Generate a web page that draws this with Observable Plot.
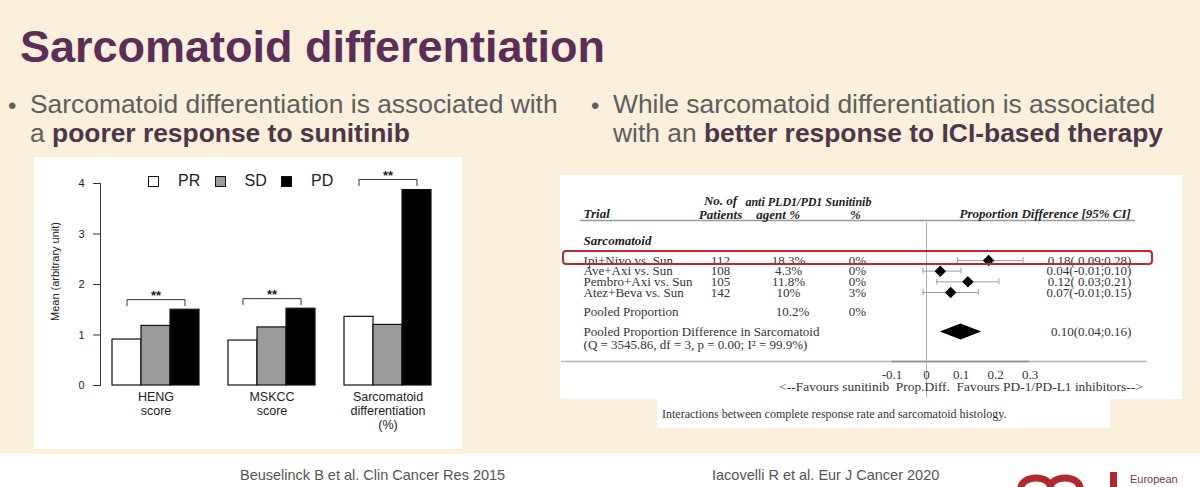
<!DOCTYPE html>
<html><head><meta charset="utf-8">
<script src="https://cdn.jsdelivr.net/npm/d3@7"></script>
<script src="https://cdn.jsdelivr.net/npm/@observablehq/plot@0.6"></script>
<style>
html,body{margin:0;padding:0;}
body{width:1200px;height:487px;background:#faf0dc;position:relative;overflow:hidden;font-family:"Liberation Sans",Arial,sans-serif;}
.abs{position:absolute;}
#title{left:20px;top:24px;font-size:45px;line-height:45px;font-weight:bold;color:#5c2d57;white-space:nowrap;}
.bullet{font-size:26.4px;line-height:29px;color:#5e5e5e;white-space:nowrap;}
.bullet b{color:#4f3549;}
.dot{font-size:24px;line-height:29px;color:#5e5e5e;}
.panel{background:#fff;}
#legend{left:148px;top:172px;display:flex;font-size:16px;color:#222;}
#legend .item{display:flex;align-items:center;width:66.5px;}
#legend .sw{width:9px;height:9px;border:1px solid #111;margin-right:19px;}
.cite{font-family:"Liberation Sans Narrow","Arial Narrow","Liberation Sans",sans-serif;font-size:14.5px;color:#555;white-space:nowrap;}
#caption{left:662px;top:407px;font-family:"Liberation Serif","Times New Roman",serif;font-size:12px;color:#333;white-space:nowrap;}
</style></head><body>
<div id="title" class="abs">Sarcomatoid differentiation</div>
<div class="abs dot" style="left:8px;top:91px;">•</div>
<div class="abs bullet" style="left:30px;top:90px;">Sarcomatoid differentiation is associated with<br>a <b>poorer response to sunitinib</b></div>
<div class="abs dot" style="left:591px;top:91px;">•</div>
<div class="abs bullet" style="left:613px;top:90px;">While sarcomatoid differentiation is associated<br>with an <b>better response to ICI-based therapy</b></div>

<div class="abs panel" style="left:34px;top:157px;width:428px;height:292px;"></div>
<div id="bars" class="abs" style="left:34px;top:157px;"></div>
<div id="legend" class="abs"></div>

<div class="abs panel" style="left:560px;top:175px;width:622px;height:224px;"></div>
<div class="abs panel" style="left:657px;top:398px;width:453px;height:30px;"></div>
<div id="forest" class="abs" style="left:555px;top:175px;"></div>
<div id="caption" class="abs">Interactions between complete response rate and sarcomatoid histology.</div>

<div class="abs" style="left:0;top:454px;width:1200px;height:33px;background:#fff;"></div>
<div class="abs cite" style="left:240px;top:467px;">Beuselinck B et al. Clin Cancer Res 2015</div>
<div class="abs cite" style="left:712px;top:467px;">Iacovelli R et al. Eur J Cancer 2020</div>
<svg class="abs" style="left:1015px;top:462px;" width="185" height="25">
  <ellipse cx="21" cy="26" rx="15" ry="10" fill="none" stroke="#b3282d" stroke-width="7"/>
  <ellipse cx="50" cy="26" rx="15" ry="10" fill="none" stroke="#b3282d" stroke-width="7"/>
  <rect x="95" y="10" width="7" height="20" fill="#b3282d"/>
  <text x="115" y="21" font-family="Liberation Sans, Arial, sans-serif" font-size="11" fill="#7a3a3a">European</text>
</svg>

<script>
// ---------- Left chart data (Beuselinck et al.) ----------
const groups = ["HENG score", "MSKCC score", "Sarcomatoid differentiation (%)"];
const groupLabels = ["HENG\nscore", "MSKCC\nscore", "Sarcomatoid\ndifferentiation\n(%)"];
const responses = ["PR", "SD", "PD"];
const responseColors = ["#ffffff", "#9b9b9b", "#000000"];
const meanPR = [0.91, 0.89, 1.36];
const meanSD = [1.18, 1.15, 1.20];
const meanPD = [1.50, 1.52, 3.87];
const yTicks = [0, 1, 2, 3, 4];
const bracketY = [1.70, 1.72, 4.08];
const sigLabels = ["**", "**", "**"];
const yLabel = "Mean (arbitrary unit)";

// ---------- Right chart data (Iacovelli et al.) ----------
const trials = ["Ipi+Nivo vs. Sun", "Ave+Axi vs. Sun", "Pembro+Axi vs. Sun", "Atez+Beva vs. Sun"];
const patients = ["112", "108", "105", "142"];
const agentPct = ["18.3%", "4.3%", "11.8%", "10%"];
const sunitinibPct = ["0%", "0%", "0%", "3%"];
const propDiff = [0.18, 0.04, 0.12, 0.07];
const ciLow = [0.09, -0.01, 0.03, -0.01];
const ciHigh = [0.28, 0.10, 0.21, 0.15];
const ciText = ["0.18( 0.09;0.28)", "0.04(-0.01;0.10)", "0.12( 0.03;0.21)", "0.07(-0.01;0.15)"];
const pooledAgent = "10.2%";
const pooledSunitinib = "0%";
const pooledDiff = 0.10;
const pooledLow = 0.04;
const pooledHigh = 0.16;
const pooledText = "0.10(0.04;0.16)";
const pooledStats = "(Q = 3545.86, df = 3, p = 0.00; I\u00b2 = 99.9%)";
const xTicks = [-0.1, 0, 0.1, 0.2, 0.3];

// ---------- Legend ----------
const legend = document.getElementById("legend");
responses.forEach((r, i) => {
  const it = document.createElement("div"); it.className = "item";
  const sw = document.createElement("div"); sw.className = "sw"; sw.style.background = responseColors[i];
  const tx = document.createElement("span"); tx.textContent = r;
  it.append(sw, tx); legend.append(it);
});

// ---------- Bar chart ----------
const key = (g, r) => g + "|" + r;
const slots = groups.flatMap((g, i) => [...responses.map((r) => key(g, r)), ...(i < groups.length - 1 ? ["gap" + i] : [])]);
const bars = groups.flatMap((g, i) => [
  {group: g, resp: "PR", value: meanPR[i]},
  {group: g, resp: "SD", value: meanSD[i]},
  {group: g, resp: "PD", value: meanPD[i]}
]);
const bracketPts = groups.flatMap((g, i) => [
  {k: i, x: key(g, "PR"), y: bracketY[i] - 0.12},
  {k: i, x: key(g, "PR"), y: bracketY[i]},
  {k: i, x: key(g, "PD"), y: bracketY[i]},
  {k: i, x: key(g, "PD"), y: bracketY[i] - 0.12}
]);
const sig = groups.map((g, i) => ({x: key(g, "SD"), y: bracketY[i], label: sigLabels[i]}));
const groupText = groups.map((g, i) => ({x: key(g, "SD"), label: groupLabels[i]}));

const barChart = Plot.plot({
  width: 428, height: 292,
  marginLeft: 66, marginRight: 19, marginTop: 26, marginBottom: 64,
  style: {fontFamily: "Liberation Sans, Arial, sans-serif", background: "transparent", overflow: "visible", color: "#222"},
  x: {domain: slots, paddingInner: 0, paddingOuter: 12 / 29, axis: null},
  y: {domain: [0, 4], axis: null},
  color: {domain: responses, range: responseColors},
  marks: [
    Plot.barY(bars, {x: (d) => key(d.group, d.resp), y: "value", fill: "resp", stroke: "#111", strokeWidth: 1.2}),
    Plot.axisY({ticks: yTicks, tickFormat: (d) => String(d), tickSize: 7, tickPadding: 9, fontSize: 11, stroke: "#333", label: null}),
    Plot.frame({anchor: "left", stroke: "#333"}),
    Plot.text([yLabel], {frameAnchor: "left", textAnchor: "middle", rotate: -90, dx: -45, dy: -13, fontSize: 11, fill: "#222"}),
    Plot.text(groupText, {x: "x", y: 0, text: "label", lineAnchor: "top", dy: 6, fontSize: 12.5, lineHeight: 1.1, fill: "#222"}),
    Plot.line(bracketPts, {x: "x", y: "y", z: "k", stroke: "#333", strokeWidth: 1}),
    Plot.text(sig, {x: "x", y: (d) => d.y + 0.08, text: "label", fontSize: 13, fontWeight: "bold", fill: "#222"})
  ]
});
document.getElementById("bars").append(barChart);

// ---------- Forest plot ----------
const rows = trials.map((t, i) => ({row: i, name: t, n: patients[i], agent: agentPct[i], sun: sunitinibPct[i],
  diff: propDiff[i], lo: ciLow[i], hi: ciHigh[i], ci: ciText[i]}));
const pooledRow = 4.8, pooledDiffRow = 6.7, statsRow = 7.9;
const pooledShape = [
  {x: pooledLow, y1: pooledDiffRow, y2: pooledDiffRow},
  {x: pooledDiff, y1: pooledDiffRow - 0.75, y2: pooledDiffRow + 0.75},
  {x: pooledHigh, y1: pooledDiffRow, y2: pooledDiffRow}
];
const colName = -0.994, colN = -0.597, colAgent = -0.40, colSun = -0.20, colCI = 0.594;
const serif = "Liberation Serif, Times New Roman, serif";
const hdr = {fontSize: 13, fontWeight: "bold", fontStyle: "italic", fill: "#222"};
const body = {fontSize: 13, fill: "#333"};

const forest = Plot.plot({
  width: 630, height: 225,
  marginTop: 0, marginLeft: 0, marginRight: 0, marginBottom: 39,
  style: {fontFamily: serif, background: "transparent", overflow: "visible", color: "#333"},
  x: {domain: [-0.1, 0.3], range: [336.5, 474.5], axis: null},
  y: {domain: [0, 3], range: [85, 117], axis: null},
  marks: [
    Plot.ruleY([-3.75], {x1: -1.003, x2: 0.606, stroke: "#999", strokeWidth: 1.5}),
    Plot.ruleY([9.47], {x1: -1.058, x2: 0.64, stroke: "#b5b5b5", strokeWidth: 1.5}),
    Plot.ruleY([9.47], {x1: -0.1, x2: 0.3, stroke: "#888", strokeWidth: 1.5}),
    Plot.ruleX([0], {y1: -3.56, y2: 12.9, stroke: "#b0b0b0", strokeWidth: 1}),
    Plot.axisX({ticks: xTicks, tickSize: 0, tickPadding: 8, fontSize: 13, tickFormat: (d) => d === 0 ? "0" : d.toFixed(1), label: null}),
    // header
    Plot.text(["Trial"], {x: colName, y: -4.4, textAnchor: "start", ...hdr}),
    Plot.text(["No. of"], {x: colN, y: -5.55, ...hdr}),
    Plot.text(["Patients"], {x: colN, y: -4.3, ...hdr}),
    Plot.text(["anti PLD1/PD1 Sunitinib"], {x: -0.525, y: -5.45, textAnchor: "start", ...hdr, fontSize: 12}),
    Plot.text(["agent %"], {x: -0.43, y: -4.3, ...hdr}),
    Plot.text(["%"], {x: -0.206, y: -4.3, ...hdr}),
    Plot.text(["Proportion Difference [95% CI]"], {x: 0.096, y: -4.4, textAnchor: "start", ...hdr}),
    Plot.text(["Sarcomatoid"], {x: colName, y: -1.87, textAnchor: "start", ...hdr}),
    // trial rows
    Plot.text(rows, {x: colName, y: "row", text: "name", textAnchor: "start", ...body}),
    Plot.text(rows, {x: colN, y: "row", text: "n", ...body}),
    Plot.text(rows, {x: colAgent, y: "row", text: "agent", ...body}),
    Plot.text(rows, {x: colSun, y: "row", text: "sun", ...body}),
    Plot.text(rows, {x: colCI, y: "row", text: "ci", textAnchor: "end", ...body}),
    Plot.ruleY(rows, {y: "row", x1: "lo", x2: "hi", stroke: "#888", strokeWidth: 0.8}),
    Plot.ruleX(rows, {x: "lo", y1: (d) => d.row - 0.28, y2: (d) => d.row + 0.28, stroke: "#888", strokeWidth: 0.8}),
    Plot.ruleX(rows, {x: "hi", y1: (d) => d.row - 0.28, y2: (d) => d.row + 0.28, stroke: "#888", strokeWidth: 0.8}),
    Plot.dot(rows, {x: "diff", y: "row", symbol: "diamond2", r: 4.2, fill: "#000", stroke: "#000"}),
    // pooled rows
    Plot.text(["Pooled Proportion"], {x: colName, y: pooledRow, textAnchor: "start", ...body}),
    Plot.text([pooledAgent], {x: -0.388, y: pooledRow, ...body}),
    Plot.text([pooledSunitinib], {x: colSun, y: pooledRow, ...body}),
    Plot.text(["Pooled Proportion Difference in Sarcomatoid"], {x: colName, y: pooledDiffRow, textAnchor: "start", ...body}),
    Plot.text([pooledStats], {x: colName, y: statsRow, textAnchor: "start", ...body}),
    Plot.areaY(pooledShape, {x: "x", y1: "y1", y2: "y2", fill: "#000"}),
    Plot.text([pooledText], {x: colCI, y: pooledDiffRow, textAnchor: "end", ...body}),
    // axis caption
    Plot.text(["<--Favours sunitinib\u00a0\u00a0Prop.Diff.\u00a0\u00a0Favours PD-1/PD-L1 inhibitors-->"], {x: 0.1, y: 11.8, fontSize: 13.4, fill: "#333"}),
    // highlight box
    Plot.rect([0], {x1: -1.052, x2: 0.655, y1: -0.84, y2: 0.375, fill: "none", stroke: "#c0262c", strokeWidth: 2, rx: 3})
  ]
});
document.getElementById("forest").append(forest);
</script>
</body></html>
